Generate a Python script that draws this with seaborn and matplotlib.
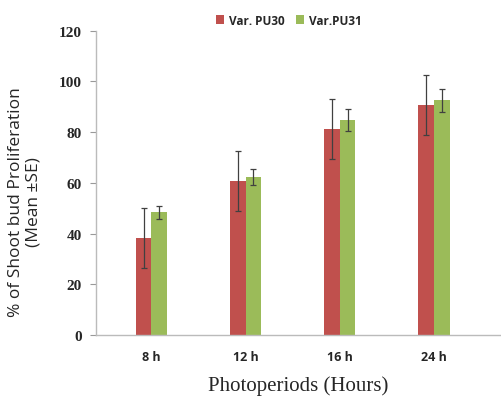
import matplotlib
matplotlib.use("Agg")
import matplotlib.pyplot as plt
import pandas as pd
import seaborn as sns

# Data
periods = ["8 h", "12 h", "16 h", "24 h"]
pu30_mean = [38.3, 60.8, 81.2, 90.7]
pu30_se = [11.7, 11.8, 11.8, 11.7]
pu31_mean = [48.4, 62.2, 84.8, 92.6]
pu31_se = [2.6, 3.1, 4.4, 4.6]
varieties = ["Var. PU30", "Var.PU31"]
colors = ["#C0504D", "#9BBB59"]

df = pd.DataFrame({
    "Period": periods * 2,
    "Variety": [varieties[0]] * 4 + [varieties[1]] * 4,
    "Value": pu30_mean + pu31_mean,
})

sns.set_style("white")
fig = plt.figure(figsize=(5.02, 4.02), dpi=100)
ax = fig.add_axes([0.191, 0.164, 0.805, 0.757])

sns.barplot(data=df, x="Period", y="Value", hue="Variety", order=periods,
            hue_order=varieties, palette=colors, width=0.332, errorbar=None,
            saturation=1, linewidth=0, ax=ax)

# error bars at the centre of each bar
for patches, means, ses in zip(ax.containers, [pu30_mean, pu31_mean], [pu30_se, pu31_se]):
    xs = [p.get_x() + p.get_width() / 2 for p in patches]
    ax.errorbar(xs, means, yerr=ses, fmt="none", ecolor="#404040",
                elinewidth=0.9, capsize=2, capthick=0.9)

ax.set_ylim(0, 120)
ax.set_xlim(-0.59, 3.7)
ax.set_yticks(range(0, 121, 20))
ax.tick_params(axis="y", which="both", left=True, length=4, color="#999999",
               direction="out", pad=6)
ax.tick_params(axis="x", bottom=False, pad=7)
for lbl in ax.get_yticklabels():
    lbl.set_fontfamily("Liberation Serif")
    lbl.set_fontsize(11)
    lbl.set_fontweight("bold")
for lbl in ax.get_xticklabels():
    lbl.set_fontfamily("Open Sans")
    lbl.set_fontsize(9)
    lbl.set_fontweight("bold")

for s in ["top", "right"]:
    ax.spines[s].set_visible(False)
for s in ["left", "bottom"]:
    ax.spines[s].set_color("#BBBBBB")
    ax.spines[s].set_linewidth(1)

ax.set_xlabel("Photoperiods (Hours)", fontfamily="Liberation Serif", fontsize=15, labelpad=9)
ax.set_ylabel("% of Shoot bud Proliferation\n(Mean ±SE)", fontfamily="Open Sans",
              fontsize=12.5, linespacing=1.1)
ax.yaxis.set_label_coords(-0.135, 0.44)

ax.legend(loc="upper center", bbox_to_anchor=(0.575, 0.99), bbox_transform=fig.transFigure,
          ncol=2, frameon=False, handlelength=0.7, handleheight=0.7, handletextpad=0.4,
          columnspacing=1.0, prop={"family": "Open Sans", "weight": "bold", "size": 8.5})

fig.savefig("out.png", dpi=100)
